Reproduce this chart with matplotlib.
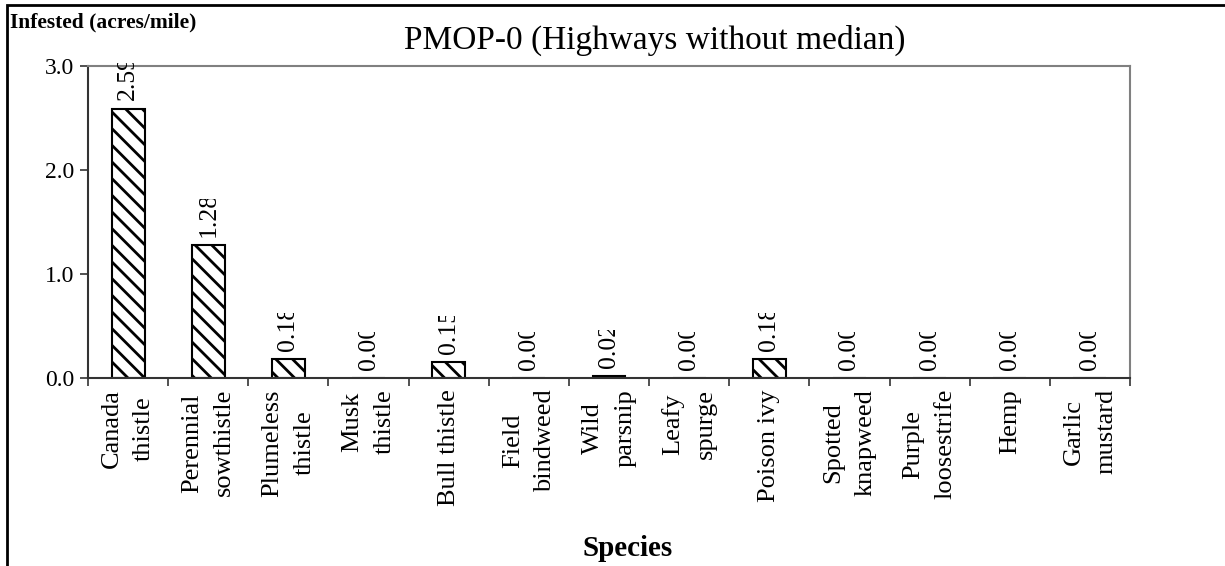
import matplotlib.pyplot as plt
from matplotlib.patches import Rectangle
from matplotlib.ticker import FixedLocator
from matplotlib.transforms import Bbox

plt.rcParams['font.family'] = ['Liberation Serif', 'DejaVu Serif']
plt.rcParams['hatch.linewidth'] = 2.0

# data
species = ['Canada\nthistle', 'Perennial\nsowthistle', 'Plumeless\nthistle', 'Musk\nthistle',
           'Bull thistle', 'Field\nbindweed', 'Wild\nparsnip', 'Leafy\nspurge', 'Poison ivy',
           'Spotted\nknapweed', 'Purple\nloosestrife', 'Hemp', 'Garlic\nmustard']
infested = [2.59, 1.28, 0.18, 0.00, 0.15, 0.00, 0.02, 0.00, 0.18, 0.00, 0.00, 0.00, 0.00]
yticks = [0.0, 1.0, 2.0, 3.0]

fig = plt.figure(figsize=(12.25, 5.66), dpi=100)
ax = fig.add_axes([88/1225, 1 - 378/566, (1130-88)/1225, (378-66)/566])

x = list(range(len(species)))
ax.bar(x, infested, width=0.41, color='white', edgecolor='black', hatch='\\\\', linewidth=1.5)

ax.set_xlim(-0.5, len(species) - 0.5)
ax.set_ylim(0, 3.0)

# value labels, cut off at a fixed length like in the original
for xi, v in zip(x, infested):
    t = ax.annotate(f'{v:.2f}', (xi, v), xytext=(0, 6), textcoords='offset points',
                    rotation=90, ha='center', va='bottom', fontsize=18.5)
    px, py = ax.transData.transform((xi, v))
    t.set_clip_on(True)
    t.set_clip_box(Bbox.from_extents(px - 30, py, px + 30, py + 8 + 38))

ax.set_yticks(yticks)
ax.set_yticklabels([f'{t:.1f}' for t in yticks], fontsize=17)

ax.set_xticks(x)
ax.set_xticklabels(species, rotation=90, fontsize=19, va='top', ha='center',
                   multialignment='center', linespacing=1.6)
ax.tick_params(axis='x', which='major', length=0, pad=8)
ax.xaxis.set_minor_locator(FixedLocator([i - 0.5 for i in range(len(species) + 1)]))
ax.tick_params(axis='x', which='minor', length=6, direction='out', width=1.2, color='#333333')
ax.tick_params(axis='y', length=6, direction='out', width=1.2, color='#333333', pad=4)

for s in ['top', 'right']:
    ax.spines[s].set_color('#808080')
    ax.spines[s].set_linewidth(1.5)
for s in ['left', 'bottom']:
    ax.spines[s].set_color('#333333')
    ax.spines[s].set_linewidth(1.5)

ax.set_xlabel('Species', fontsize=21, fontweight='bold')
ax.xaxis.set_label_coords((628 - 88) / (1130 - 88), -(535 - 378) / (378 - 66))

fig.text(10/1225, 1 - 22/566, 'Infested (acres/mile)', fontsize=15.5, fontweight='bold', va='center', ha='left')
fig.text(655/1225, 1 - 40/566, 'PMOP-0 (Highways without median)', fontsize=24, va='center', ha='center')

# outer chart border (cropped on right and bottom)
fig.patches.append(Rectangle((7/1225, -0.1), 1.2, 1 - 5/566 + 0.1, transform=fig.transFigure,
                             fill=False, edgecolor='black', linewidth=2))

fig.savefig('out.png', dpi=100)
